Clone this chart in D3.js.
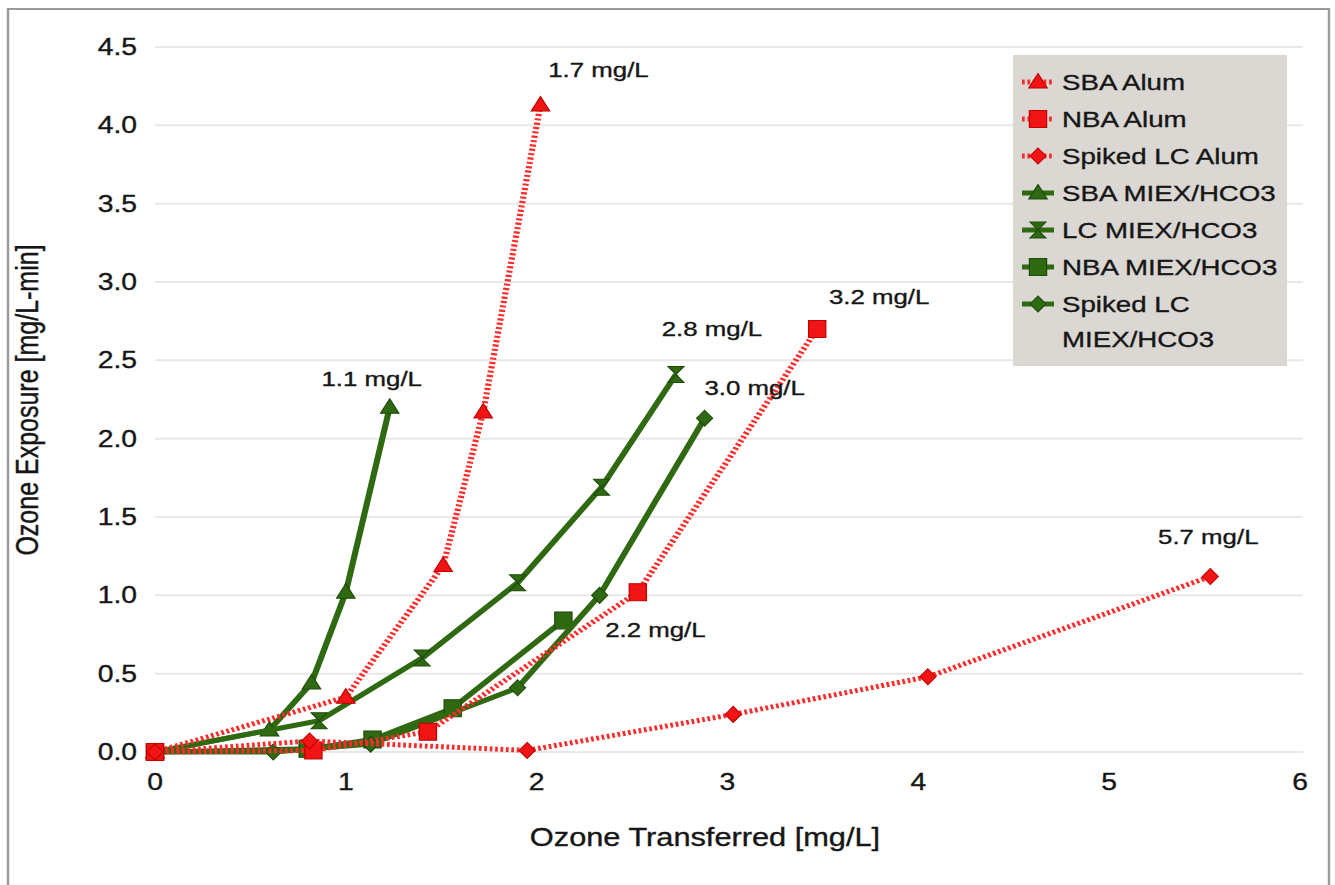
<!DOCTYPE html>
<html>
<head>
<meta charset="utf-8">
<script src="https://cdn.jsdelivr.net/npm/d3@7"></script>
<style>
body{margin:0;background:#fff;}
text{font-family:"Liberation Sans", Arial, sans-serif;fill:#161616;stroke:#161616;stroke-width:0.35px;}
</style>
</head>
<body>
<div id="chart"></div>
<script>
// chart data
var xTicks = [0, 1, 2, 3, 4, 5, 6];
var yTicks = [0, 0.5, 1, 1.5, 2, 2.5, 3, 3.5, 4, 4.5];
var yTickLabels = ['0.0','0.5','1.0','1.5','2.0','2.5','3.0','3.5','4.0','4.5'];

var seriesNames = ['SBA Alum', 'NBA Alum', 'Spiked LC Alum', 'SBA MIEX/HCO3',
	'LC MIEX/HCO3', 'NBA MIEX/HCO3', 'Spiked LC MIEX/HCO3'];

var sbaAlumX = [0, 1.00, 1.51, 1.72, 2.02];
var sbaAlumY = [0, 0.35, 1.19, 2.17, 4.13];
var nbaAlumX = [0, 0.83, 1.43, 2.53, 3.47];
var nbaAlumY = [0, 0.01, 0.13, 1.02, 2.70];
var lcAlumX = [0, 0.81, 1.95, 3.03, 4.05, 5.53];
var lcAlumY = [0, 0.07, 0.01, 0.24, 0.48, 1.12];
var sbaMiexX = [0, 0.60, 0.82, 1.00, 1.23];
var sbaMiexY = [0, 0.14, 0.44, 1.02, 2.20];
var lcMiexX = [0, 0.86, 1.40, 1.90, 2.34, 2.73];
var lcMiexY = [0, 0.20, 0.60, 1.08, 1.69, 2.41];
var nbaMiexX = [0, 0.80, 1.14, 1.56, 2.14];
var nbaMiexY = [0, 0.02, 0.08, 0.28, 0.84];
var spLcMiexX = [0, 0.62, 1.13, 1.90, 2.33, 2.88];
var spLcMiexY = [0, 0.00, 0.05, 0.41, 1.00, 2.13];

var endLabels = ['1.7 mg/L', '3.2 mg/L', '5.7 mg/L', '1.1 mg/L', '2.8 mg/L', '2.2 mg/L', '3.0 mg/L'];

var seriesX = [sbaAlumX, nbaAlumX, lcAlumX, sbaMiexX, lcMiexX, nbaMiexX, spLcMiexX];
var seriesY = [sbaAlumY, nbaAlumY, lcAlumY, sbaMiexY, lcMiexY, nbaMiexY, spLcMiexY];

// the picture is stretched sideways, so draw in a narrower box and stretch it
var SX = 1.23;
var W = 1335 / SX, H = 885;
function rx(v){ return v / SX; }

var RED = '#f01414', RED_LINE = '#ff2b2b', GREEN = '#2f6a12', GREEN_DARK = '#1f4a0a';

var markers = {
	tri: 'M0,-8.5L7.5,6L-7.5,6Z',
	sq: 'M-7,-8.5h14v17h-14z',
	dia: 'M0,-8L6.5,0L0,8L-6.5,0Z',
	hour: 'M-6.5,-8L6.5,-8L-6.5,8L6.5,8Z'
};
var seriesStyle = [
	{color: RED, line: RED_LINE, dotted: true, marker: 'tri'},
	{color: RED, line: RED_LINE, dotted: true, marker: 'sq'},
	{color: RED, line: RED_LINE, dotted: true, marker: 'dia'},
	{color: GREEN, line: GREEN, dotted: false, marker: 'tri'},
	{color: GREEN, line: GREEN, dotted: false, marker: 'hour'},
	{color: GREEN, line: GREEN, dotted: false, marker: 'sq'},
	{color: GREEN, line: GREEN, dotted: false, marker: 'dia'}
];
// label offset from last point, in real pixels
var labelOffset = [[58, -28], [62, -25], [-2, -33], [-18, -21], [36, -38], [92, 17], [50, -23]];

var svg = d3.select('#chart').append('svg')
	.attr('width', 1335).attr('height', 885)
	.attr('viewBox', '0 0 ' + W + ' ' + H)
	.attr('preserveAspectRatio', 'none');

// outer frame
svg.append('rect')
	.attr('x', rx(8)).attr('y', 9)
	.attr('width', rx(1321)).attr('height', 900)
	.attr('fill', '#fff').attr('stroke', '#9a9a9a').attr('stroke-width', 2);

var x = d3.scaleLinear().domain([0, 6]).range([rx(155), rx(1300)]);
var y = d3.scaleLinear().domain([0, 4.5]).range([752, 47]);

// gridlines
svg.append('g').selectAll('line').data(yTicks).enter().append('line')
	.attr('x1', x(0)).attr('x2', x(6) + rx(3))
	.attr('y1', function(d){ return y(d); })
	.attr('y2', function(d){ return y(d); })
	.attr('stroke', '#e8e8e8').attr('stroke-width', 2);

// y tick labels
svg.append('g').selectAll('text').data(yTicks).enter().append('text')
	.attr('x', rx(137))
	.attr('y', function(d){ return y(d); })
	.attr('text-anchor', 'end')
	.attr('dominant-baseline', 'central')
	.attr('font-size', 23)
	.text(function(d, i){ return yTickLabels[i]; });

// x tick labels
svg.append('g').selectAll('text').data(xTicks).enter().append('text')
	.attr('x', function(d){ return x(d); })
	.attr('y', 782)
	.attr('text-anchor', 'middle')
	.attr('dominant-baseline', 'central')
	.attr('font-size', 23)
	.text(function(d){ return d; });

svg.append('text')
	.attr('x', rx(705)).attr('y', 838)
	.attr('text-anchor', 'middle').attr('dominant-baseline', 'central')
	.attr('font-size', 25)
	.text('Ozone Transferred [mg/L]');

svg.append('text')
	.attr('transform', 'translate(' + [rx(28), 400] + ') rotate(-90)')
	.attr('text-anchor', 'middle').attr('dominant-baseline', 'central')
	.attr('font-size', 25)
	.text('Ozone Exposure [mg/L-min]');

var line = d3.line()
	.x(function(d){ return x(d[0]); })
	.y(function(d){ return y(d[1]); });

// green series first, red dotted ones lie on top
var order = [3, 4, 5, 6, 0, 1, 2];
order.forEach(function(s){
	var st = seriesStyle[s];
	var pts = seriesX[s].map(function(v, i){ return [v, seriesY[s][i]]; });
	var g = svg.append('g').attr('class', 'series');
	g.append('path')
		.attr('d', line(pts))
		.attr('fill', 'none')
		.attr('stroke', st.line)
		.attr('stroke-width', 5)
		.attr('stroke-dasharray', st.dotted ? '2.2,2.2' : null);
	g.selectAll('path.mk').data(pts).enter().append('path')
		.attr('class', 'mk')
		.attr('d', markers[st.marker])
		.attr('transform', function(d){ return 'translate(' + [x(d[0]), y(d[1])] + ')'; })
		.attr('fill', st.color)
		.attr('stroke', st.dotted ? '#c00000' : GREEN_DARK)
		.attr('stroke-width', 1);
});

// end labels
seriesX.forEach(function(xs, s){
	var last = xs.length - 1;
	svg.append('text')
		.attr('x', x(xs[last]) + rx(labelOffset[s][0]))
		.attr('y', y(seriesY[s][last]) + labelOffset[s][1])
		.attr('text-anchor', 'middle')
		.attr('font-size', 21)
		.text(endLabels[s]);
});

// legend
var leg = svg.append('g');
leg.append('rect')
	.attr('x', rx(1013)).attr('y', 55)
	.attr('width', rx(274)).attr('height', 311)
	.attr('fill', '#dbd8d4');

var legRows = [82, 119, 156, 193, 230, 267, 304];
seriesNames.forEach(function(name, s){
	var st = seriesStyle[s];
	var ry = legRows[s];
	leg.append('line')
		.attr('x1', rx(1022)).attr('x2', rx(1054))
		.attr('y1', ry).attr('y2', ry)
		.attr('stroke', st.line)
		.attr('stroke-width', 5)
		.attr('stroke-dasharray', st.dotted ? '2.2,2.2' : null);
	leg.append('path')
		.attr('d', markers[st.marker])
		.attr('transform', 'translate(' + [rx(1038), ry] + ')')
		.attr('fill', st.color)
		.attr('stroke', st.dotted ? '#c00000' : GREEN_DARK)
		.attr('stroke-width', 1);
	var t = leg.append('text')
		.attr('x', rx(1062)).attr('y', ry)
		.attr('dominant-baseline', 'central')
		.attr('font-size', 22.5);
	if (name === 'Spiked LC MIEX/HCO3') {
		t.append('tspan').text('Spiked LC');
		t.append('tspan').attr('x', rx(1062)).attr('dy', 35).text('MIEX/HCO3');
	} else {
		t.text(name);
	}
});
</script>
</body>
</html>
